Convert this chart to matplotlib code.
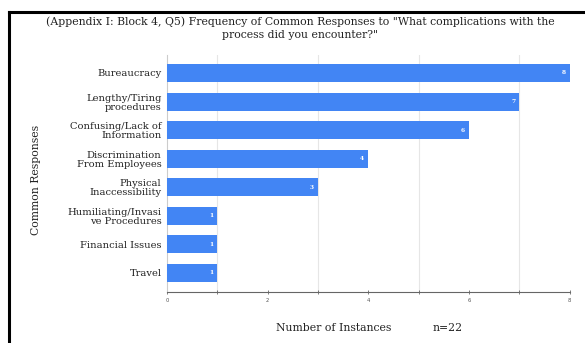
import matplotlib.pyplot as plt
from matplotlib.lines import Line2D

# Responses and counts
responses = ["Bureaucracy", "Lengthy/Tiring\nprocedures", "Confusing/Lack of\nInformation",
             "Discrimination\nFrom Employees", "Physical\nInaccessibility",
             "Humiliating/Invasi\nve Procedures", "Financial Issues", "Travel"]
counts = [8, 7, 6, 4, 3, 1, 1, 1]
x_ticks = [0, 2, 4, 6, 8]

serif = ["DejaVu Serif"]
bar_color = "#4285f4"

fig = plt.figure(figsize=(5.85, 3.43), dpi=100)
ax = fig.add_axes([0.2855, 0.1487, 0.6885, 0.691])

ypos = list(range(len(responses)))
ax.barh(ypos, counts, height=0.63, color=bar_color, zorder=3)
for y, v in zip(ypos, counts):
    ax.text(v - 0.08, y, str(v), ha="right", va="center", color="white",
            fontsize=4.2, fontweight="bold", family=serif, zorder=4)

ax.set_ylim(7.665, -0.63)
ax.set_xlim(0, 8)
ax.set_yticks(ypos)
ax.set_yticklabels(responses, family=serif, fontsize=7.1, color="#222222", linespacing=1.0)
ax.tick_params(axis="y", length=0, pad=4)
ax.set_xticks(x_ticks)
ax.set_xticklabels([str(t) for t in x_ticks], fontsize=3.8, color="#555555")
ax.set_xticks(range(9), minor=True)
ax.tick_params(axis="x", which="both", length=3, width=0.6, color="#666666",
               direction="inout", pad=3)
ax.grid(axis="x", which="minor", color="#e6e6e6", linewidth=0.8, zorder=0)

for s in ["top", "right"]:
    ax.spines[s].set_visible(False)
ax.spines["left"].set_color("#cccccc")
ax.spines["left"].set_linewidth(0.8)
ax.spines["bottom"].set_color("#666666")
ax.spines["bottom"].set_linewidth(0.8)

fig.text(0.513, 0.936, "(Appendix I: Block 4, Q5) Frequency of Common Responses to \"What complications with the",
         ha="center", va="center", family=serif, fontsize=7.8, color="#222222")
fig.text(0.513, 0.898, "process did you encounter?\"",
         ha="center", va="center", family=serif, fontsize=7.8, color="#222222")
fig.text(0.062, 0.475, "Common Responses", rotation=90, ha="center", va="center",
         family=serif, fontsize=7.8, color="#222222")
fig.text(0.57, 0.043, "Number of Instances", ha="center", va="center",
         family=serif, fontsize=7.8, color="#222222")
fig.text(0.765, 0.043, "n=22", ha="center", va="center",
         family=serif, fontsize=7.8, color="#222222")

# Page frame lines
fig.add_artist(Line2D([0.015, 1.0], [0.965, 0.965], color="black", linewidth=2.2,
                      transform=fig.transFigure))
fig.add_artist(Line2D([0.016, 0.016], [0.0, 0.965], color="black", linewidth=2.2,
                      transform=fig.transFigure))

fig.savefig("out.png", dpi=100)
